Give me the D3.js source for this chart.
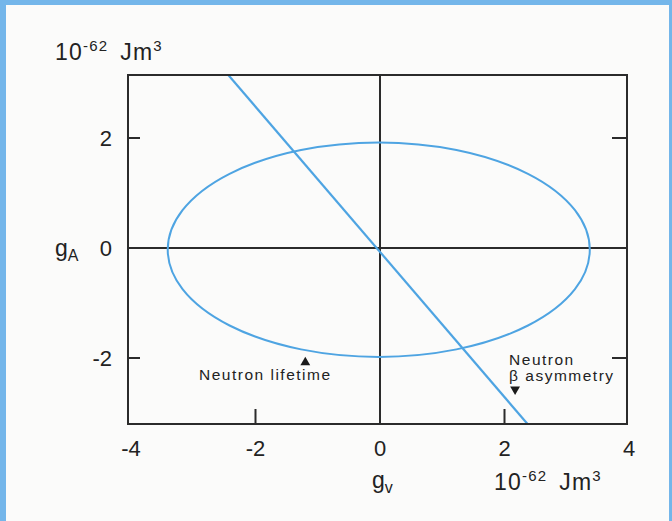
<!DOCTYPE html>
<html>
<head>
<meta charset="utf-8">
<script src="https://cdn.jsdelivr.net/npm/d3@7"></script>
<style>
  html, body { margin: 0; padding: 0; background: #74b6ea; }
  svg { display: block; }
  text { font-family: "Liberation Sans", Arial, Helvetica, sans-serif; fill: #222; }
</style>
</head>
<body>
<script>
// Axis ticks and labels
const xTickValues = [-4, -2, 0, 2, 4];
const yTickValues = [-2, 0, 2];
const innerTickX = [-2, 2];
const innerTickY = [-2, 2];

// Allowed region: ellipse in the (g_V, g_A) plane
const ellipseCenter = [-0.02, -0.03];
const ellipseRadii = [3.39, 1.95];

// Neutron beta asymmetry constraint line (g_A vs g_V)
const asymmetryLine = [[-2.44, 3.15], [2.37, -3.2]];

// Marker positions for the two measurements
const lifetimeMarker = [-1.2, -2.08];
const asymmetryMarker = [2.17, -2.57];

const W = 672, H = 521;
const svg = d3.select("body").append("svg").attr("width", W).attr("height", H);

// page panel
svg.append("rect").attr("x", 6).attr("y", 5).attr("width", 663).attr("height", 516)
  .attr("fill", "#fbfbfa");

const frame = { left: 128, right: 627, top: 75, bottom: 424 };

const x = d3.scaleLinear().domain([-4, 4]).range([131, 629]);
const y = d3.scaleLinear().domain([-2, 2]).range([358, 138]);

const ink = "#2b2b2b";
const blue = "#4ea4e2";

svg.append("defs").append("clipPath").attr("id", "plotClip")
  .append("rect").attr("x", frame.left).attr("y", frame.top)
  .attr("width", frame.right - frame.left).attr("height", frame.bottom - frame.top);

// zero axes
svg.append("line").attr("x1", frame.left).attr("x2", frame.right)
  .attr("y1", y(0)).attr("y2", y(0)).attr("stroke", ink).attr("stroke-width", 2);
svg.append("line").attr("x1", x(0)).attr("x2", x(0))
  .attr("y1", frame.top).attr("y2", frame.bottom).attr("stroke", ink).attr("stroke-width", 2);

// inner ticks
const tg = svg.append("g").attr("stroke", ink).attr("stroke-width", 2);
innerTickX.forEach(v => {
  tg.append("line").attr("x1", x(v)).attr("x2", x(v))
    .attr("y1", frame.bottom).attr("y2", frame.bottom - 15);
});
innerTickY.forEach(v => {
  tg.append("line").attr("x1", frame.left).attr("x2", frame.left + 12)
    .attr("y1", y(v)).attr("y2", y(v));
  tg.append("line").attr("x1", frame.right).attr("x2", frame.right - 15)
    .attr("y1", y(v)).attr("y2", y(v));
});

// ellipse
const plot = svg.append("g").attr("clip-path", "url(#plotClip)");
plot.append("ellipse")
  .attr("cx", x(ellipseCenter[0])).attr("cy", y(ellipseCenter[1]))
  .attr("rx", x(ellipseRadii[0]) - x(0)).attr("ry", y(0) - y(ellipseRadii[1]))
  .attr("fill", "none").attr("stroke", blue).attr("stroke-width", 2);

// constraint line
plot.append("path")
  .attr("d", d3.line().x(d => x(d[0])).y(d => y(d[1]))(asymmetryLine))
  .attr("fill", "none").attr("stroke", blue).attr("stroke-width", 2.2);

// frame
svg.append("rect").attr("x", frame.left).attr("y", frame.top)
  .attr("width", frame.right - frame.left).attr("height", frame.bottom - frame.top)
  .attr("fill", "none").attr("stroke", ink).attr("stroke-width", 2);

// markers
const tri = d3.symbol().type(d3.symbolTriangle).size(42);
svg.append("path").attr("d", tri())
  .attr("transform", `translate(${x(lifetimeMarker[0])},${y(lifetimeMarker[1])})`)
  .attr("fill", "#1a1a1a");
svg.append("path").attr("d", tri())
  .attr("transform", `translate(${x(asymmetryMarker[0])},${y(asymmetryMarker[1])}) rotate(180)`)
  .attr("fill", "#1a1a1a");

const noteStyle = t => t.attr("font-size", 15.5).attr("letter-spacing", 1.5);
noteStyle(svg.append("text").attr("x", x(lifetimeMarker[0]) - 40).attr("y", y(lifetimeMarker[1]) + 18)
  .attr("text-anchor", "middle").text("Neutron lifetime"));
noteStyle(svg.append("text").attr("x", x(asymmetryMarker[0]) - 6).attr("y", y(asymmetryMarker[1]) - 24)
  .text("Neutron"));
noteStyle(svg.append("text").attr("x", x(asymmetryMarker[0]) - 6).attr("y", y(asymmetryMarker[1]) - 8)
  .text("β asymmetry"));

// tick labels
const fs = 22;
xTickValues.forEach(v => {
  svg.append("text").attr("x", x(v)).attr("y", 456)
    .attr("text-anchor", "middle").attr("font-size", fs).text(v);
});
yTickValues.forEach(v => {
  svg.append("text").attr("x", 112).attr("y", y(v) + 8)
    .attr("text-anchor", "end").attr("font-size", fs).text(v);
});

// axis names
const gA = svg.append("text").attr("x", 55).attr("y", y(0) + 8).attr("font-size", fs + 1);
gA.append("tspan").text("g");
gA.append("tspan").attr("dy", 5).attr("font-size", 16).text("A");

const gV = svg.append("text").attr("x", 372).attr("y", 488).attr("font-size", fs + 1);
gV.append("tspan").text("g");
gV.append("tspan").attr("dy", 5).attr("font-size", 16).text("v");

// unit labels
function unitLabel(px, py) {
  const t = svg.append("text").attr("x", px).attr("y", py)
    .attr("font-size", 23).attr("letter-spacing", 1.2);
  t.append("tspan").text("10");
  t.append("tspan").attr("dy", -9).attr("font-size", 15).text("-62");
  t.append("tspan").attr("dy", 9).attr("dx", 12).text("Jm");
  t.append("tspan").attr("dy", -9).attr("font-size", 15).text("3");
}
unitLabel(55, 60);
unitLabel(494, 490);
</script>
</body>
</html>
